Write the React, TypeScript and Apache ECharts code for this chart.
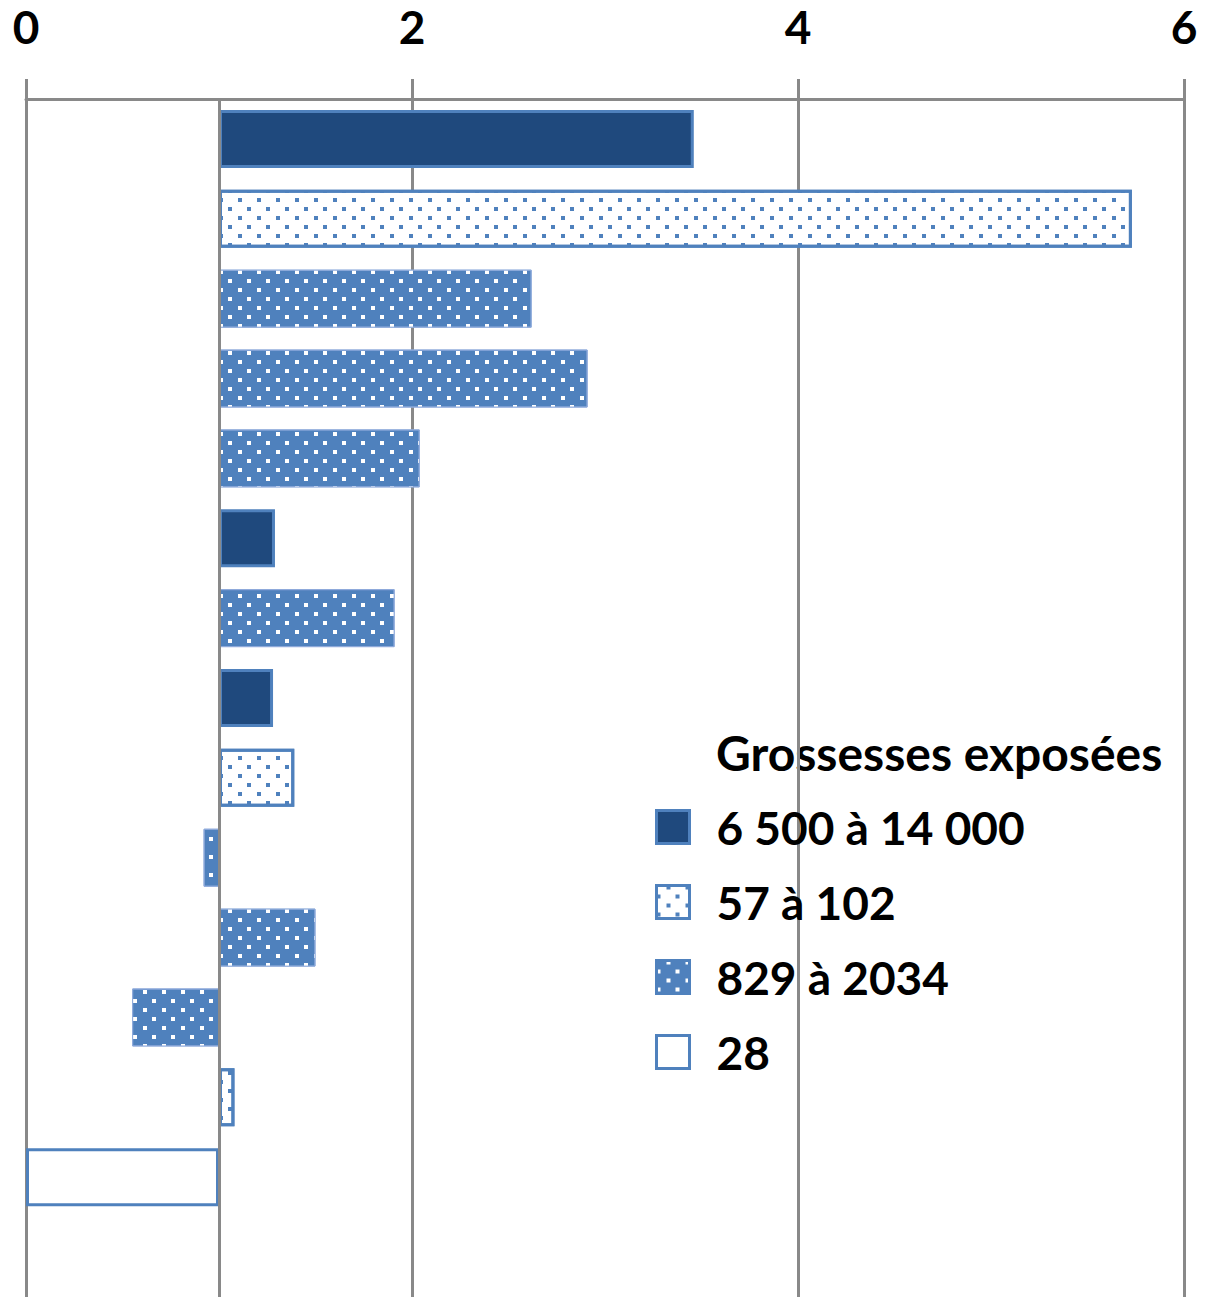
import React, { useEffect, useRef } from "react";
import * as echarts from "echarts";

// ---- data ----
const categories = ["1", "2", "3", "4", "5", "6", "7", "8", "9", "10", "11", "12", "13", "14", ""];
const values: (number | null)[] = [3.46, 5.73, 2.62, 2.91, 2.04, 1.29, 1.91, 1.28, 1.39, 0.92, 1.5, 0.55, 1.08, 0.0, null];
const groups: (string | null)[] = [
  "6 500 à 14 000",
  "57 à 102",
  "829 à 2034",
  "829 à 2034",
  "829 à 2034",
  "6 500 à 14 000",
  "829 à 2034",
  "6 500 à 14 000",
  "57 à 102",
  "829 à 2034",
  "829 à 2034",
  "829 à 2034",
  "57 à 102",
  "28",
  null,
];
const legendNames = ["6 500 à 14 000", "57 à 102", "829 à 2034", "28"];
const legendTitle = "Grossesses exposées";
const baseline = 1;
const axisMin = 0;
const axisMax = 6;
const axisInterval = 2;

// ---- styles ----
const BLUE = "#4F81BD";
const NAVY = "#1F497D";
const GRID = "#898989";
const FONT = "Lato";

const dotDecal = (color: string) => ({
  symbol: "rect",
  symbolSize: 1,
  color,
  dashArrayX: [
    [4, 15],
    [0, 10, 4, 5],
  ],
  dashArrayY: [4, 5],
  rotation: 0,
});

const groupStyles: Record<string, any> = {
  "6 500 à 14 000": { color: NAVY, borderColor: BLUE, borderWidth: 3 },
  "57 à 102": { color: "#ffffff", borderColor: BLUE, borderWidth: 3, decal: dotDecal(BLUE) },
  "829 à 2034": { color: BLUE, borderColor: "#8EAADB", borderWidth: 1, decal: dotDecal("#ffffff") },
  "28": { color: "#ffffff", borderColor: BLUE, borderWidth: 3 },
};

export default function App() {
  const ref = useRef<HTMLDivElement>(null);

  useEffect(() => {
    if (!ref.current) return;
    const chart = echarts.init(ref.current, undefined, { renderer: "svg" });

    const baseData = values.map((v) => (v == null ? null : Math.min(v, baseline)));

    const series: any[] = [
      {
        name: "__base",
        type: "bar",
        stack: "or",
        data: baseData,
        barWidth: 58,
        itemStyle: { color: "rgba(0,0,0,0)" },
        silent: true,
        markLine: {
          silent: true,
          symbol: ["none", "none"],
          label: { show: false },
          lineStyle: { color: GRID, width: 3, type: "solid" },
          data: [{ xAxis: baseline }],
          z: 10,
        },
      },
      ...legendNames.map((name) => ({
        name,
        type: "bar",
        stack: "or",
        barWidth: 58,
        data: values.map((v, i) => (v != null && groups[i] === name ? Math.abs(v - baseline) : null)),
        itemStyle: groupStyles[name],
      })),
    ];

    chart.setOption({
      animation: false,
      backgroundColor: "#ffffff",
      grid: { left: 26, right: 27, top: 99, bottom: 0, containLabel: false },
      xAxis: {
        type: "value",
        position: "top",
        min: axisMin,
        max: axisMax,
        interval: axisInterval,
        axisLine: { show: true, lineStyle: { color: GRID, width: 3 } },
        axisTick: { show: true, inside: false, length: 20, lineStyle: { color: GRID, width: 3 } },
        splitLine: { show: true, lineStyle: { color: GRID, width: 3 } },
        axisLabel: {
          color: "#000",
          fontFamily: FONT,
          fontWeight: "bold",
          fontSize: 46,
          lineHeight: 46,
          margin: 50,
        },
      },
      yAxis: {
        type: "category",
        inverse: true,
        data: categories,
        axisLine: { show: false },
        axisTick: { show: false },
        axisLabel: { show: false },
        splitLine: { show: false },
      },
      legend: {
        data: legendNames.map((name) => ({
          name,
          icon: "rect",
          itemStyle: { ...groupStyles[name], borderWidth: 3, borderColor: BLUE },
        })),
        orient: "vertical",
        left: 655,
        top: 802,
        padding: 0,
        itemWidth: 33,
        itemHeight: 33,
        itemGap: 25,
        selectedMode: false,
        textStyle: {
          fontFamily: FONT,
          fontWeight: "bold",
          fontSize: 46,
          color: "#000",
          lineHeight: 50,
          padding: [0, 0, 0, 22],
        },
      },
      graphic: [
        {
          type: "text",
          x: 716,
          y: 752,
          style: {
            text: legendTitle,
            fontFamily: FONT,
            fontWeight: "bold",
            fontSize: 48,
            fill: "#000",
            verticalAlign: "middle",
          },
        },
      ],
      series,
    });

    return () => chart.dispose();
  }, []);

  return (
    <div
      ref={ref}
      style={{ position: "fixed", left: 0, top: 0, width: 1211, height: 1297, background: "#fff" }}
    />
  );
}
